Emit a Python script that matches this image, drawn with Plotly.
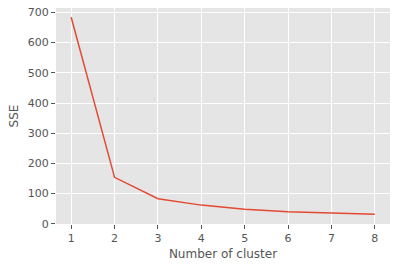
import plotly.graph_objects as go

clusters = [1, 2, 3, 4, 5, 6, 7, 8]
sse = [684, 154, 83, 62, 48, 40, 36, 32]
y_ticks = [0, 100, 200, 300, 400, 500, 600, 700]

fig = go.Figure()
fig.add_trace(go.Scatter(x=clusters, y=sse, mode="lines",
                         line=dict(color="#E24A33", width=1.5)))

axis_font = dict(family="DejaVu Sans", size=11, color="#555555")
fig.update_layout(
    width=396, height=268,
    margin=dict(l=56, r=6, t=8, b=44),
    paper_bgcolor="white", plot_bgcolor="#E5E5E5",
    showlegend=False,
    font=dict(family="DejaVu Sans", color="#555555"),
    xaxis=dict(range=[0.65, 8.35], tickvals=clusters, showgrid=True,
               gridcolor="white", gridwidth=1, zeroline=False,
               ticks="outside", ticklen=4, tickcolor="#555555", tickwidth=1,
               tickfont=axis_font,
               title=dict(text="Number of cluster", font=dict(size=12, color="#555555"), standoff=5)),
    yaxis=dict(range=[-0.5, 714.5], tickvals=y_ticks, showgrid=True,
               gridcolor="white", gridwidth=1, zeroline=False,
               ticks="outside", ticklen=4, tickcolor="#555555", tickwidth=1,
               tickfont=axis_font,
               title=dict(text="SSE", font=dict(size=12, color="#555555"), standoff=6)),
)
fig.write_html("out.html")
